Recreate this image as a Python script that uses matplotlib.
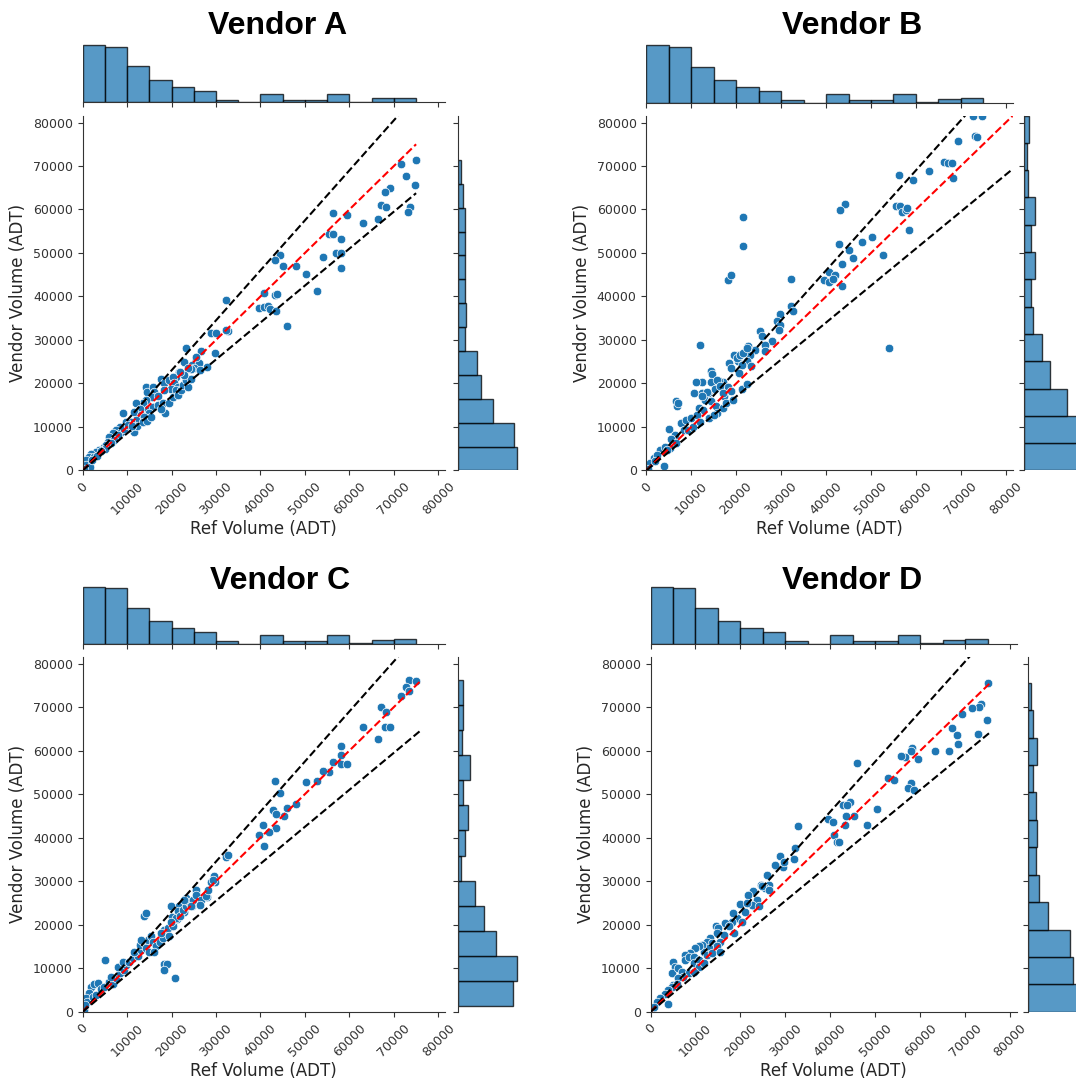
import numpy as np
import matplotlib.pyplot as plt
import matplotlib
matplotlib.rcParams.update({'font.size': 9, 'text.color': '0.15', 'axes.labelcolor': '0.15',
                            'xtick.color': '0.2', 'ytick.color': '0.2', 'axes.edgecolor': '0.2'})

# ---- data (ADT) ----
a_ref = [75000, 71500, 72700, 74800, 69200, 68000, 67000, 68200, 73600, 73100, 66400, 63000, 56300, 59400,
         55400, 56400, 58000, 57000, 58200, 58000, 54000, 50300, 52800, 47900, 45100, 44400, 43200, 46000,
         40700, 39700, 40900, 41700, 42100, 43600, 43200, 43700, 32200, 32600, 32200, 28800, 29900, 29800,
         27900, 26600, 23300, 25500, 24600, 26100, 25100, 24400, 26400, 22700, 25400, 23600, 21100, 21700,
         20500, 20200, 17600, 18200, 19400, 20300, 20600, 21400, 19900, 18400, 21000, 14300, 14400, 15800,
         16100, 15600, 17000, 14300, 13500, 14600, 15800, 17000, 18000, 18600, 15000, 12000, 12800, 11600,
         13100, 13900, 12000, 10900, 9000, 9800, 8300, 7500, 8600, 6800, 7900, 6000, 7100, 5600, 6400,
         4900, 5300, 3800, 3000, 1900, 1500, 2600, 800, 800, 1700, 11600, 10500, 12200, 13500, 14500,
         15400, 17600, 19400, 20300, 21400, 22100, 22500, 23600, 23300, 24400, 22900, 21800, 300, 9400,
         10200, 11000, 5000, 4200, 2200, 3300]
a_vendor = [71400, 70400, 67700, 65700, 65000, 64100, 61100, 60500, 60500, 59500, 57900, 56800, 59300, 58700,
            54400, 54300, 53300, 50000, 50000, 46500, 49000, 45100, 41300, 47000, 46900, 49600, 48300, 33100,
            40700, 37300, 37500, 37700, 37200, 36700, 40400, 40500, 39300, 32000, 32300, 31600, 31700, 27000,
            23700, 27400, 28100, 25400, 24200, 24800, 23500, 23300, 23100, 24900, 26100, 23500, 21500, 22700,
            17700, 18700, 21100, 20000, 20800, 21400, 20000, 19200, 18800, 18500, 18500, 19100, 18100, 19200,
            18100, 16900, 17100, 16100, 15400, 14200, 14600, 15000, 15500, 13100, 13100, 15400, 14200, 13500,
            12700, 12300, 11500, 11200, 13100, 11200, 10000, 9200, 8800, 8500, 8100, 7700, 6900, 6500, 6200,
            5400, 5800, 4600, 4200, 3800, 3100, 3100, 2300, 1200, 800, 8800, 9800, 10200, 11200, 11300,
            12300, 14200, 15400, 16900, 17300, 18500, 19600, 19200, 20800, 21100, 21900, 22700, 400, 9600,
            10500, 10300, 4900, 4400, 2500, 3300]

b_ref = [72800, 74700, 73100, 73600, 69300, 66300, 67200, 68000, 68200, 63000, 56300, 59300, 55500, 56500,
         57000, 57800, 58000, 58400, 44300, 43100, 42900, 45200, 48000, 50300, 52600, 45900, 43600, 40600,
         41900, 39600, 40700, 41500, 43600, 54000, 21400, 21400, 18100, 18900, 32100, 32200, 32700, 29800,
         29100, 29800, 29500, 27900, 26300, 26500, 25200, 25800, 24200, 22700, 23100, 22300, 23200, 20600,
         19400, 20400, 21200, 18300, 18900, 20600, 12000, 17000, 16200, 18100, 18900, 17300, 14400, 14600,
         12300, 11000, 14300, 10600, 12300, 13700, 15200, 13000, 14300, 11600, 12700, 15400, 15800, 6600,
         6800, 7000, 5100, 7700, 8900, 10000, 11200, 8400, 6400, 5400, 6600, 5300, 3100, 4100, 1600, 2400,
         800, 3900, 9300, 10400, 12000, 13900, 15000, 17000, 17700, 19300, 21200, 22300, 300, 4500, 2000,
         15700, 16400, 17100, 13400, 12300, 20100, 20800, 21600, 22300]
b_vendor = [81500, 81500, 76800, 76600, 75800, 70900, 70600, 70600, 67300, 68900, 67900, 66700, 60900, 60900,
            59400, 59900, 60300, 55200, 61300, 59800, 52000, 50700, 52600, 53700, 49600, 48800, 47400, 45700,
            44900, 43700, 43300, 44100, 42300, 28200, 58200, 51700, 43700, 44900, 44100, 37700, 36600, 36000,
            34400, 33400, 32400, 29800, 28900, 27400, 32000, 31000, 27600, 28600, 26600, 25100, 23900, 26600,
            26600, 25100, 24300, 24700, 23500, 22300, 28800, 20300, 20500, 19100, 18300, 17100, 22900, 22100,
            20300, 20300, 20300, 17700, 17700, 17900, 18700, 16300, 15900, 14400, 14000, 14700, 13300, 15900,
            14700, 15400, 9600, 10800, 11600, 12000, 12800, 9200, 8200, 7200, 6400, 5200, 4800, 5400, 2900, 3600,
            1700, 1100, 9200, 10000, 11200, 12000, 12800, 14400, 15500, 16300, 18700, 19900, 300, 4700, 2200,
            20800, 19300, 17800, 18100, 17000, 25800, 26500, 26900, 28100]

c_ref = [73500, 75000, 72700, 71500, 73500, 67100, 68200, 63100, 68000, 69200, 66400, 58000, 58100, 58000,
         59400, 56400, 55400, 54000, 52700, 50200, 48100, 46000, 45200, 44400, 43200, 42900, 43600, 43600,
         40500, 39700, 42000, 40700, 32200, 32600, 29600, 29100, 29800, 27900, 25600, 25700, 26400, 24700,
         22900, 23300, 21700, 21500, 19900, 20200, 21300, 22900, 13700, 14200, 18400, 19000, 18400, 20700,
         5000, 1900, 2600, 3400, 1500, 800, 1100, 2300, 3000, 4100, 4900, 6000, 6800, 7500, 6400, 8300,
         7900, 9400, 9800, 9000, 10500, 11300, 12400, 11600, 13100, 12800, 13900, 14600, 13100, 15400,
         15800, 14300, 15000, 16500, 16100, 17300, 18000, 18400, 17600, 19100, 20300, 19500, 21000, 19900,
         21800, 22500, 23300, 24000, 24800, 25500, 25500, 26600, 27800, 28100, 28900, 29400, 26400, 24400,
         22900, 300, 600]
c_vendor = [76200, 76000, 74600, 72500, 73700, 69900, 68800, 65500, 65500, 65500, 62700, 61000, 59000, 56900,
            56900, 57300, 55100, 55300, 53100, 52800, 47800, 46900, 45000, 50300, 53100, 46300, 45500, 42200,
            43000, 40600, 41300, 38200, 35600, 36000, 31300, 30100, 29900, 26300, 27900, 26500, 24700, 24300,
            25000, 26100, 24400, 23200, 24200, 21800, 21400, 23000, 21900, 22800, 10900, 10900, 9500, 7800,
            12000, 5800, 6400, 6600, 4300, 3100, 2300, 3500, 3900, 5200, 5800, 6900, 6500, 7700, 8100, 8900,
            10400, 9600, 10800, 11500, 11500, 12300, 12800, 13800, 14200, 15400, 15700, 16500, 16500, 17300,
            16100, 14600, 13800, 15000, 13800, 16100, 16900, 18800, 18000, 19200, 19600, 17300, 21500, 20700,
            21900, 23400, 24200, 25300, 25700, 28000, 26900, 25700, 26500, 28000, 29900, 30300, 24500, 24200,
            25700, 500, 1500]

d_ref = [75100, 74900, 72800, 73500, 73100, 71500, 69200, 67000, 68100, 68300, 66400, 63200, 59500, 58100,
         57900, 56600, 55600, 57900, 57200, 58500, 52800, 54100, 50400, 46000, 48100, 45300, 43500, 43300,
         44300, 42900, 43600, 39500, 40500, 40700, 41400, 42000, 32700, 32200, 32000, 28900, 29500, 29700,
         28000, 26400, 25800, 24500, 25400, 23100, 22800, 21700, 19800, 27600, 24800, 26300, 23700, 22600,
         21500, 24100, 21100, 19200, 18300, 18100, 16600, 17400, 20400, 18500, 14600, 15100, 14800, 16300,
         13300, 12500, 13700, 15500, 14800, 12900, 11400, 11800, 10700, 9900, 8800, 7700, 5100, 5500, 4700,
         6200, 7000, 7700, 8500, 9600, 9600, 10700, 10700, 11800, 8500, 7300, 6200, 5100, 5800, 4700, 4000,
         3200, 2100, 1400, 4000, 9600, 12500, 13700, 15500, 300, 800]
d_vendor = [75500, 67100, 63800, 70700, 69900, 69700, 68300, 65300, 63500, 61500, 60000, 60000, 58100, 60600,
            59800, 58500, 58800, 52500, 51500, 50900, 53600, 53300, 46600, 57200, 43000, 44900, 44900, 43000,
            48100, 47500, 47400, 44400, 43700, 40600, 39000, 39000, 42600, 37600, 35200, 35900, 33300, 34300,
            33500, 29100, 31400, 29100, 28400, 24300, 27700, 26900, 24800, 33700, 28800, 28000, 25700, 24600,
            25000, 24200, 23000, 21500, 22800, 20700, 20300, 19600, 20700, 18000, 19700, 19200, 18000, 17700,
            16900, 16100, 15700, 16100, 15000, 14600, 15400, 13800, 15000, 14600, 13500, 13100, 11500, 10400,
            8800, 10000, 9200, 11900, 12700, 12500, 11100, 11900, 10400, 11100, 8800, 8100, 7700, 6200, 6500,
            5800, 5000, 4200, 3100, 2300, 1700, 9200, 13100, 13500, 13800, 300, 1000]

# marginal histogram counts
ref_counts = [73, 71, 46, 29, 20, 15, 3, 0, 11, 3, 3, 11, 1, 5, 6]   # Ref volume, 0-75000
ref_range = (0, 75000)
a_counts = [69, 66, 41, 27, 22, 9, 10, 9, 9, 9, 9, 6, 4]
a_range = (0, 71400)
b_counts = [67, 64, 49, 30, 20, 10, 8, 12, 8, 13, 5, 3, 6]
b_range = (0, 81600)
c_counts = [66, 71, 46, 31, 20, 4, 8, 12, 6, 14, 5, 6, 6]
c_range = (1350, 76200)
d_counts = [78, 59, 55, 27, 15, 11, 12, 10, 6, 12, 6, 4]
d_range = (0, 75600)

vendors = ['Vendor A', 'Vendor B', 'Vendor C', 'Vendor D']
refs = [a_ref, b_ref, c_ref, d_ref]
vols = [a_vendor, b_vendor, c_vendor, d_vendor]
counts = [a_counts, b_counts, c_counts, d_counts]
ranges = [a_range, b_range, c_range, d_range]

W, H = 1076, 1080
fig = plt.figure(figsize=(W / 100, H / 100), dpi=100)

def rect(l, t, r, b):
    return [l / W, 1 - b / H, (r - l) / W, (b - t) / H]

# pixel layout: joint box, top-hist baseline, right-hist left edge, title centre / baseline
layout = [((82.6, 116, 445, 470.4), 102.3, 457.7, (278, 34)),
          ((646.4, 116, 1012.5, 470.4), 102.6, 1024, (852, 34)),
          ((82.6, 657, 445, 1011.8), 643.7, 458, (280, 589)),
          ((650.5, 657, 1017, 1011.8), 643.7, 1028, (852, 589))]

lim = max(max(v) for v in refs + vols)
blue = '#1f77b4'
ref_edges = np.linspace(ref_range[0], ref_range[1], len(ref_counts) + 1)

for i in range(4):
    (l, t, r, b), base, rl, (tx, ty) = layout[i]
    x, y = refs[i], vols[i]
    ax = fig.add_axes(rect(l, t, r, b))
    axx = fig.add_axes(rect(l, base - 60, r, base), sharex=ax)
    axy = fig.add_axes(rect(rl, t, rl + 62, b), sharey=ax)

    ax.scatter(x, y, s=38, color=blue, edgecolors='white', linewidths=0.5, zorder=2)
    m = max(max(x), max(y))
    line = np.array([0, m])
    ax.plot(line, line * 1.15, '--', color='black', lw=1.5, zorder=3)
    ax.plot(line, line, '--', color='red', lw=1.5, zorder=3)
    ax.plot(line, line * 0.85, '--', color='black', lw=1.5, zorder=3)
    ax.set_xlim(0, lim)
    ax.set_ylim(0, lim)
    ax.set_xticks(range(0, 80001, 10000))
    ax.set_yticks(range(0, 80001, 10000))
    ax.tick_params(axis='x', labelrotation=45)
    ax.set_xlabel('Ref Volume (ADT)', fontsize=12, labelpad=2)
    ax.set_ylabel('Vendor Volume (ADT)', fontsize=12)
    for s in ['top', 'right']:
        ax.spines[s].set_visible(False)

    axx.bar(ref_edges[:-1], ref_counts, width=np.diff(ref_edges), align='edge',
            facecolor=blue, alpha=0.75, edgecolor='black', linewidth=1)
    axx.tick_params(labelbottom=False, left=False, labelleft=False)
    for s in ['top', 'right', 'left']:
        axx.spines[s].set_visible(False)

    e = np.linspace(ranges[i][0], ranges[i][1], len(counts[i]) + 1)
    axy.barh(e[:-1], counts[i], height=np.diff(e), align='edge',
             facecolor=blue, alpha=0.75, edgecolor='black', linewidth=1)
    axy.tick_params(labelleft=False, bottom=False, labelbottom=False)
    for s in ['top', 'right', 'bottom']:
        axy.spines[s].set_visible(False)

    fig.text(tx / W, 1 - ty / H, vendors[i], ha='center', va='baseline', fontsize=23,
             fontweight='bold', family='Liberation Sans', color='black')

plt.savefig('out.png', dpi=100)
